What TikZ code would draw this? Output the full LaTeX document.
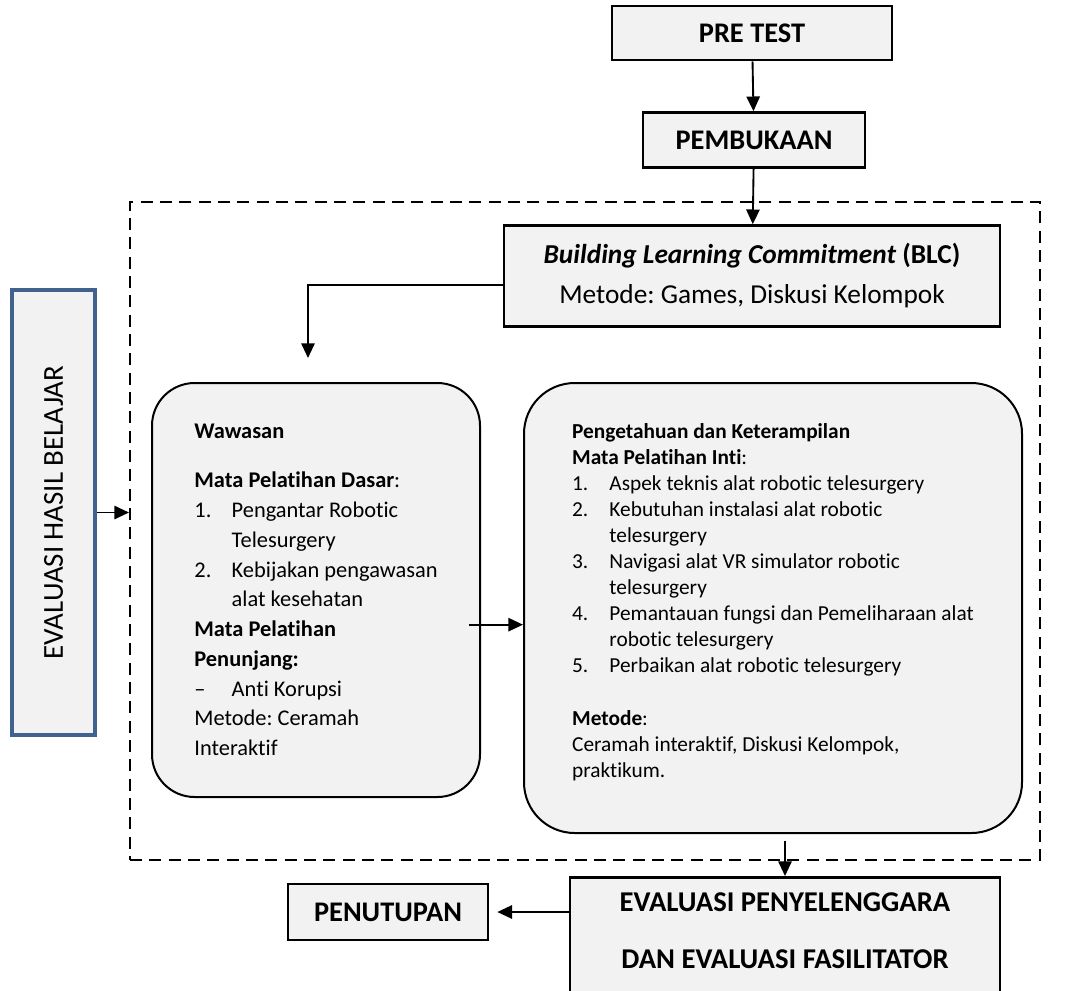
\documentclass[tikz,border=0pt]{standalone}
\usepackage{fontspec}
\setmainfont{Carlito}[Ligatures=NoCommon]
\frenchspacing
\usetikzlibrary{arrows.meta,positioning}
\definecolor{boxfill}{HTML}{F2F2F2}
\definecolor{hasilblue}{RGB}{65,98,142}
\newcommand{\numbox}[1]{\makebox[28pt][l]{#1}}
\newcommand{\indentbox}{\hspace*{28pt}}
\begin{document}
\begin{tikzpicture}[x=0.75pt,y=-0.75pt,
  titlebox/.style={draw,line width=2pt,fill=boxfill,inner sep=0pt,font=\bfseries\fontsize{21.3}{26}\selectfont},
  roundbox/.style={draw,line width=1.5pt,fill=boxfill,inner sep=0pt,align=left},
  arr/.style={-{Triangle[length=11pt,width=10pt]},line width=1.4pt}]
\path[use as bounding box] (0,0) rectangle (1075,990);
\node (kegiatan) [draw,line width=1.5pt,dash pattern=on 9pt off 5.5pt,minimum width=682.5pt,minimum height=493.5pt] at (585,531) {};
\node (pretest) [titlebox,minimum width=210pt,minimum height=40.5pt] at (752,33) {PRE TEST};
\node (buka) [titlebox,minimum width=166.5pt,minimum height=41.25pt] at (754,140) {PEMBUKAAN};
\node (blc) [draw,line width=2pt,fill=boxfill,minimum width=372pt,minimum height=75.75pt,align=center,font=\fontsize{20.5}{30}\selectfont] at (752,276) {\textbf{\textit{Building Learning Commitment}} \textbf{(BLC)}\\Metode: Games, Diskusi Kelompok};
\node (hasil) [draw=hasilblue,line width=3pt,fill=boxfill,rotate=90,minimum width=333.75pt,minimum height=62.25pt,font=\fontsize{21.7}{26}\selectfont] at (53.5,512.5) {EVALUASI HASIL BELAJAR};
\node (dasar) [roundbox,rounded corners=32pt,minimum width=246pt,minimum height=310.5pt,font=\fontsize{16.8}{22.3}\selectfont] at (316,590) {\textbf{Wawasan}\\[14.6pt]
  \textbf{Mata Pelatihan Dasar}:\\
  \numbox{1.}Pengantar Robotic\\
  \indentbox Telesurgery\\
  \numbox{2.}Kebijakan pengawasan\\
  \indentbox alat kesehatan\\
  \textbf{Mata Pelatihan}\\
  \textbf{Penunjang:}\\
  \numbox{--}Anti Korupsi\\
  Metode: Ceramah\\
  Interaktif};
\node (inti) [roundbox,rounded corners=38pt,minimum width=373.5pt,minimum height=337.5pt,font=\fontsize{16}{19.5}\selectfont] at (773,608) {\textbf{Pengetahuan dan Keterampilan}\\
  \textbf{Mata Pelatihan Inti}:\\
  \numbox{1.}Aspek teknis alat robotic telesurgery\\
  \numbox{2.}Kebutuhan instalasi alat robotic\\
  \indentbox telesurgery\\
  \numbox{3.}Navigasi alat VR simulator robotic\\
  \indentbox telesurgery\\
  \numbox{4.}Pemantauan fungsi dan Pemeliharaan alat\\
  \indentbox robotic telesurgery\\
  \numbox{5.}Perbaikan alat robotic telesurgery\\[20pt]
  \textbf{Metode}:\\
  Ceramah interaktif, Diskusi Kelompok,\\
  praktikum.\\[-8pt]\mbox{}};
\node (evalpeny) [draw,line width=2pt,fill=boxfill,minimum width=322.5pt,minimum height=100pt,anchor=north] at (785,876) {};
\node (evalteks) [align=center,font=\bfseries\fontsize{21.5}{42.75}\selectfont] at (785,931) {EVALUASI PENYELENGGARA\\DAN EVALUASI FASILITATOR};
\node (tutup) [titlebox,minimum width=150pt,minimum height=42pt] at (388,912) {PENUTUPAN};
\coordinate (blcend) at (308,358);
\draw[arr] (pretest) -- (buka);
\draw[arr] (buka) -- (blc);
\draw[arr] ([yshift=-7pt]blc.west) -| (blcend);
\draw[arr] (hasil) -- (hasil -| kegiatan.west);
\draw[arr] ([xshift=-9pt,yshift=-26pt]dasar.east) -- ([yshift=-26pt]dasar.east -| inti.west);
\draw[arr,shorten <=5pt] (inti.south -| evalpeny.north) -- (evalpeny.north);
\draw[arr,shorten >=6pt] (evalpeny.west |- tutup) -- (tutup);
\end{tikzpicture}
\end{document}
